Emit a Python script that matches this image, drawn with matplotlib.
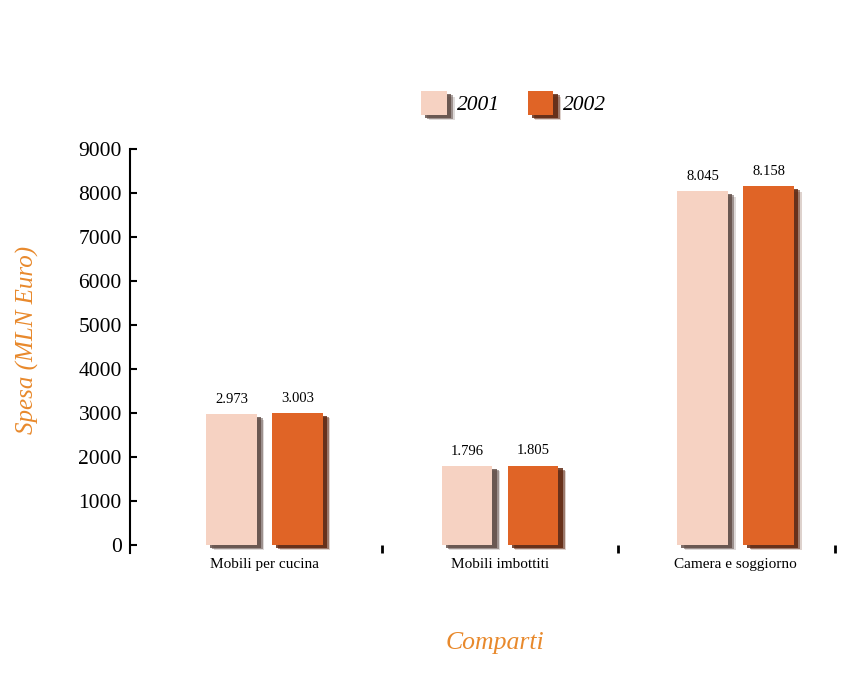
#Importing numpy, pyplot and patheffects
import numpy as np
import matplotlib.pyplot as plt
import matplotlib.patheffects as pe

#categories and spending values (MLN Euro)
comparti = ['Mobili per cucina', 'Mobili imbottiti', 'Camera e soggiorno']
anni = ['2001', '2002']
spesa_2001 = [2973, 1796, 8045]
spesa_2002 = [3003, 1805, 8158]

#colours
col_2001 = '#f6d2c2'
col_2002 = '#e06426'
col_label = '#e8892c'

plt.rcParams['font.family'] = ['Liberation Serif', 'DejaVu Serif']

fig = plt.figure(figsize=(8.56, 6.75), dpi=100)
ax = fig.add_axes([0.152, 0.181, 0.823, 0.598])

x = np.arange(len(comparti))
w = 0.215

#soft drop shadow, three layers
def ombra(c):
    return [pe.SimplePatchShadow(offset=(5.5, -4), shadow_rgbFace=c, alpha=0.2),
            pe.SimplePatchShadow(offset=(4.5, -3), shadow_rgbFace=c, alpha=0.5),
            pe.SimplePatchShadow(offset=(3, -2), shadow_rgbFace=c, alpha=0.8),
            pe.Normal()]

b1 = ax.bar(x - 0.14, spesa_2001, w, color=col_2001, label=anni[0],
            path_effects=ombra('#5e4a44'))
b2 = ax.bar(x + 0.14, spesa_2002, w, color=col_2002, label=anni[1],
            path_effects=ombra('#5a2008'))

#value labels with italian thousand separator
for bars, vals in [(b1, spesa_2001), (b2, spesa_2002)]:
    for r, v in zip(bars, vals):
        ax.annotate(f'{v:,}'.replace(',', '.'), (r.get_x() + r.get_width() / 2, v),
                    xytext=(0, 6), textcoords='offset points',
                    ha='center', va='bottom', fontsize=10.5)

ax.set_xlim(-0.57, 2.42)
ax.set_ylim(-180, 9000)
ax.set_yticks(np.arange(0, 9001, 1000))
ax.tick_params(axis='y', direction='in', length=5, width=1.5, labelsize=15.5, pad=6)

#category names between the boundary ticks
ax.set_xticks([0.5, 1.5, 2.42])
ax.set_xticklabels([])
ax.tick_params(axis='x', which='major', direction='in', length=6, width=2)
ax.set_xticks(x, minor=True)
ax.set_xticklabels(comparti, minor=True, fontsize=11)
ax.tick_params(axis='x', which='minor', length=0, pad=4)

for s in ['top', 'right', 'bottom']:
    ax.spines[s].set_visible(False)
ax.spines['left'].set_linewidth(1.5)

fig.text(27 / 856, 1 - 340 / 675, 'Spesa (MLN Euro)', rotation=90, ha='center', va='center',
         fontsize=18, style='italic', color=col_label)
fig.text(495 / 856, 1 - 643 / 675, 'Comparti', ha='center', va='center',
         fontsize=18.5, style='italic', color=col_label)

leg = fig.legend(handles=[b1, b2], loc='center', bbox_to_anchor=(0.600, 0.847), ncol=2,
                 frameon=False, handlelength=1.2, handleheight=1.3, handletextpad=0.45,
                 columnspacing=1.3, prop={'size': 15.5, 'style': 'italic'})

plt.savefig('out.png')
